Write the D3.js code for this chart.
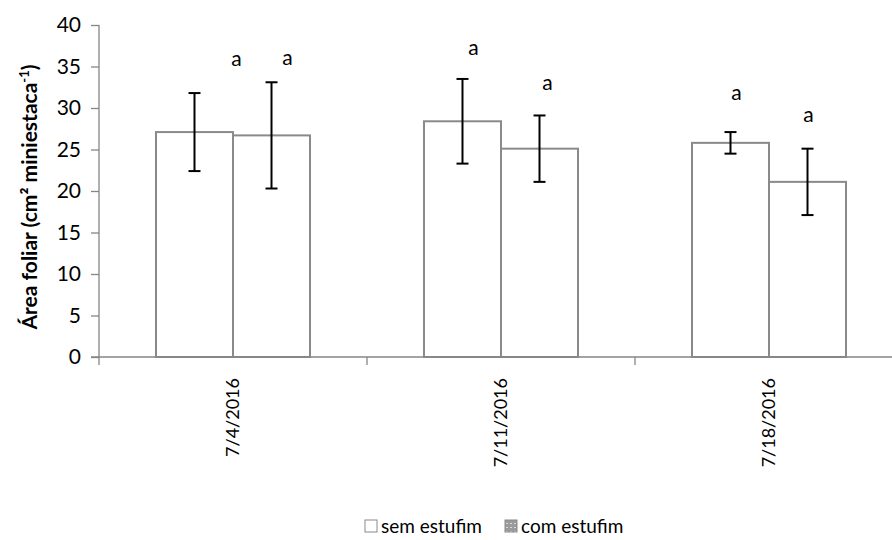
<!DOCTYPE html>
<html>
<head>
<meta charset="utf-8">
<script src="https://cdn.jsdelivr.net/npm/d3@7"></script>
<style>
  html, body { margin: 0; padding: 0; background: #fff; }
  svg { display: block; font-family: Lato, "Open Sans", sans-serif; }
</style>
</head>
<body>
<svg id="chart" width="892" height="540"></svg>
<script>
// ---- data ----
const categories = ["7/4/2016", "7/11/2016", "7/18/2016"];
const series = ["sem estufim", "com estufim"];
const semValues = [27.1, 28.4, 25.8];
const comValues = [26.7, 25.1, 21.1];
const semErrors = [4.7, 5.1, 1.3];
const comErrors = [6.4, 4.0, 4.0];
const semLetters = ["a", "a", "a"];
const comLetters = ["a", "a", "a"];
const semLetterLevel = [36.0, 37.3, 31.8];
const comLetterLevel = [36.1, 33.0, 29.2];
const yTicks = [0, 5, 10, 15, 20, 25, 30, 35, 40];

// layout (not data)
const semLetterDx = [42, 11, 6];
const comLetterDx = [16, 8, 1];

(function () {
const svg = d3.select("#chart");
const W = 892;
const pLeft = 99, pRight = 903, pTop = 25, pBottom = 357;
const axisColor = "#868686";

const x = d3.scaleBand().domain(categories).range([pLeft, pRight]).paddingInner(0).paddingOuter(0);
const x1 = d3.scaleBand().domain(series).range([0, x.bandwidth()]).paddingInner(0).paddingOuter(0.74);
const y = d3.scaleLinear().domain([0, 40]).range([pBottom, pTop]);

const rows = categories.map((c, i) => ({
  cat: c,
  items: [
    { s: series[0], v: semValues[i], e: semErrors[i], l: semLetters[i], ly: semLetterLevel[i], dx: semLetterDx[i] },
    { s: series[1], v: comValues[i], e: comErrors[i], l: comLetters[i], ly: comLetterLevel[i], dx: comLetterDx[i] }
  ]
}));

// y axis
const yAxis = d3.axisLeft(y).tickValues(yTicks).tickSize(8).tickPadding(10).tickFormat(d3.format("d"));
const gy = svg.append("g").attr("transform", `translate(${pLeft},0)`).call(yAxis);
gy.select(".domain").remove();
gy.selectAll(".tick line").attr("stroke", axisColor).attr("stroke-width", 1.3);
gy.selectAll(".tick text").attr("fill", "#000").style("font-size", "21px").style("font-family", "Lato, sans-serif");
svg.append("line").attr("x1", pLeft).attr("x2", pLeft).attr("y1", y(40)).attr("y2", pBottom + 8)
  .attr("stroke", axisColor).attr("stroke-width", 1.3);

// bars
const groups = svg.append("g").selectAll("g").data(rows).join("g")
  .attr("transform", d => `translate(${x(d.cat)},0)`);
groups.selectAll("rect").data(d => d.items).join("rect")
  .attr("x", d => x1(d.s))
  .attr("y", d => y(d.v))
  .attr("width", x1.bandwidth())
  .attr("height", d => y(0) - y(d.v))
  .attr("fill", "#fff")
  .attr("stroke", "#8a8a8a")
  .attr("stroke-width", 2);

// x axis
const xAxis = d3.axisBottom(x).tickSize(0).tickFormat(d => d);
const gx = svg.append("g").attr("transform", `translate(0,${pBottom})`).call(xAxis);
gx.select(".domain").remove();
svg.append("line").attr("x1", pLeft - 8).attr("x2", W).attr("y1", pBottom).attr("y2", pBottom)
  .attr("stroke", axisColor).attr("stroke-width", 1.3);
const bounds = categories.map(c => x(c)).concat([x(categories[categories.length - 1]) + x.bandwidth()]);
svg.append("g").selectAll("line").data(bounds.slice(1)).join("line")
  .attr("x1", d => d).attr("x2", d => d).attr("y1", pBottom).attr("y2", pBottom + 8)
  .attr("stroke", axisColor).attr("stroke-width", 1.3);
gx.selectAll(".tick text")
  .attr("transform", "rotate(-90)")
  .attr("text-anchor", "end")
  .attr("x", -21)
  .attr("y", 0)
  .attr("dy", "0.36em")
  .attr("fill", "#000")
  .style("font-size", "18px")
  .style("font-family", "Lato, sans-serif");

// error bars
const eb = groups.selectAll("g.err").data(d => d.items).join("g").attr("class", "err");
eb.append("line")
  .attr("x1", d => x1(d.s) + x1.bandwidth() / 2).attr("x2", d => x1(d.s) + x1.bandwidth() / 2)
  .attr("y1", d => y(d.v + d.e)).attr("y2", d => y(d.v - d.e))
  .attr("stroke", "#000").attr("stroke-width", 2);
eb.selectAll("line.cap").data(d => [{ d, v: d.v + d.e }, { d, v: d.v - d.e }]).join("line")
  .attr("class", "cap")
  .attr("x1", o => x1(o.d.s) + x1.bandwidth() / 2 - 6).attr("x2", o => x1(o.d.s) + x1.bandwidth() / 2 + 6)
  .attr("y1", o => y(o.v)).attr("y2", o => y(o.v))
  .attr("stroke", "#000").attr("stroke-width", 2);

// significance letters
groups.selectAll("text.letter").data(d => d.items).join("text")
  .attr("class", "letter")
  .attr("x", d => x1(d.s) + x1.bandwidth() / 2 + d.dx)
  .attr("y", d => y(d.ly))
  .attr("dy", "0.35em")
  .attr("text-anchor", "middle")
  .style("font-size", "21px")
  .text(d => d.l);

// y title
const yt = svg.append("text")
  .attr("transform", `translate(30,${(pTop + pBottom) / 2 + 6}) rotate(-90)`)
  .attr("text-anchor", "middle")
  .attr("dy", "0.35em")
  .style("font-size", "21px")
  .style("font-weight", "bold");
yt.append("tspan").text("Área foliar (cm² miniestaca");
yt.append("tspan").attr("baseline-shift", "super").style("font-size", "13px").text("-1");
yt.append("tspan").text(")");

// legend
const defs = svg.append("defs");
const pat = defs.append("pattern").attr("id", "dots").attr("patternUnits", "userSpaceOnUse")
  .attr("width", 4).attr("height", 4);
pat.append("rect").attr("width", 4).attr("height", 4).attr("fill", "#9a9a9a");
pat.append("rect").attr("x", 1).attr("y", 1).attr("width", 2).attr("height", 1).attr("fill", "#d8d8d8");

const legendItems = [
  { label: series[0], fill: "#fff", x: 365 },
  { label: series[1], fill: "url(#dots)", x: 505 }
];
const lg = svg.append("g").selectAll("g").data(legendItems).join("g")
  .attr("transform", d => `translate(${d.x},526)`);
lg.append("rect").attr("x", 0).attr("y", -6).attr("width", 12).attr("height", 12)
  .attr("fill", d => d.fill).attr("stroke", "#8a8a8a").attr("stroke-width", 1);
lg.append("text").attr("x", 16).attr("y", 0).attr("dy", "0.35em")
  .style("font-size", "19px").text(d => d.label);
})();
</script>
</body>
</html>
